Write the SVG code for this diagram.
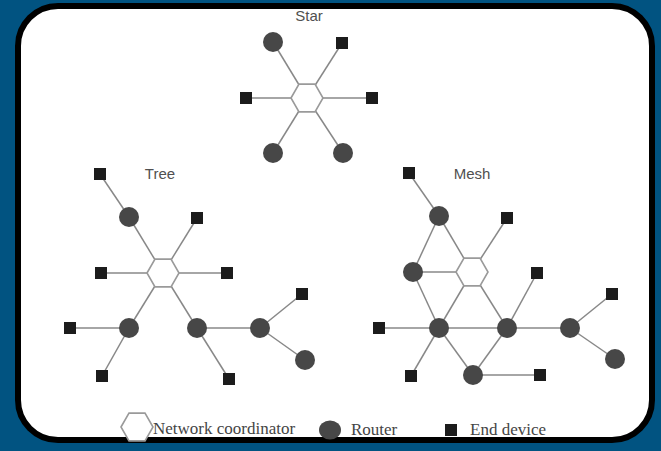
<svg xmlns="http://www.w3.org/2000/svg" width="661" height="451" viewBox="0 0 661 451">
<defs>
<style>
.edge{stroke:#888;stroke-width:1.5;fill:none}
.hex{fill:#fff;stroke:#9a9a9a;stroke-width:1.6}
.router{fill:#474747}
.dev{fill:#1c1c1c}
.title{font-family:"Liberation Sans",Arial,sans-serif;font-size:15px;fill:#505050;text-anchor:middle}
.leg{font-family:"Liberation Serif","Times New Roman",serif;font-size:17px;fill:#444}
</style>
<polygon id="hexshape" points="-16,0 -8,-13.9 8,-13.9 16,0 8,13.9 -8,13.9"/>
</defs>
<rect x="0" y="0" width="661" height="451" fill="#015381"/>
<rect x="18" y="6" width="634" height="434" rx="40" ry="40" fill="#fff" stroke="#000" stroke-width="6"/>

<g id="connectors">
<!-- Star -->
<line class="edge" x1="307" y1="98" x2="273" y2="42"/>
<line class="edge" x1="307" y1="98" x2="342" y2="43"/>
<line class="edge" x1="307" y1="98" x2="246" y2="98"/>
<line class="edge" x1="307" y1="98" x2="372" y2="98"/>
<line class="edge" x1="307" y1="98" x2="273" y2="153"/>
<line class="edge" x1="307" y1="98" x2="343" y2="153"/>
<!-- Tree -->
<line class="edge" x1="100" y1="174" x2="129" y2="217"/>
<line class="edge" x1="163" y1="273" x2="129" y2="217"/>
<line class="edge" x1="163" y1="273" x2="197" y2="218"/>
<line class="edge" x1="163" y1="273" x2="101" y2="273"/>
<line class="edge" x1="163" y1="273" x2="227" y2="273"/>
<line class="edge" x1="163" y1="273" x2="129" y2="328"/>
<line class="edge" x1="163" y1="273" x2="197" y2="328"/>
<line class="edge" x1="129" y1="328" x2="70" y2="328"/>
<line class="edge" x1="129" y1="328" x2="102" y2="376"/>
<line class="edge" x1="197" y1="328" x2="229" y2="379"/>
<line class="edge" x1="197" y1="328" x2="260" y2="328"/>
<line class="edge" x1="260" y1="328" x2="302" y2="294"/>
<line class="edge" x1="260" y1="328" x2="305" y2="360"/>
<!-- Mesh -->
<line class="edge" x1="409" y1="173" x2="439" y2="216"/>
<line class="edge" x1="472" y1="272" x2="439" y2="216"/>
<line class="edge" x1="439" y1="216" x2="413" y2="272"/>
<line class="edge" x1="413" y1="272" x2="472" y2="272"/>
<line class="edge" x1="413" y1="272" x2="439" y2="328"/>
<line class="edge" x1="472" y1="272" x2="507" y2="218"/>
<line class="edge" x1="472" y1="272" x2="439" y2="328"/>
<line class="edge" x1="472" y1="272" x2="507" y2="328"/>
<line class="edge" x1="507" y1="328" x2="537" y2="273"/>
<line class="edge" x1="379" y1="328" x2="439" y2="328"/>
<line class="edge" x1="439" y1="328" x2="507" y2="328"/>
<line class="edge" x1="507" y1="328" x2="570" y2="328"/>
<line class="edge" x1="439" y1="328" x2="411" y2="376"/>
<line class="edge" x1="439" y1="328" x2="473" y2="375"/>
<line class="edge" x1="473" y1="375" x2="507" y2="328"/>
<line class="edge" x1="473" y1="375" x2="540" y2="375"/>
<line class="edge" x1="570" y1="328" x2="612" y2="294"/>
<line class="edge" x1="570" y1="328" x2="615" y2="359"/>
</g>

<g id="star">
<text class="title" x="309" y="21">Star</text>
<g id="star-coordinator"><use href="#hexshape" class="hex" x="307" y="98"/></g>
<g id="star-r1"><circle class="router" cx="273" cy="42" r="10"/></g>
<g id="star-r2"><circle class="router" cx="273" cy="153" r="10"/></g>
<g id="star-r3"><circle class="router" cx="343" cy="153" r="10"/></g>
<g id="star-d1"><rect class="dev" x="336" y="37" width="12" height="12"/></g>
<g id="star-d2"><rect class="dev" x="240" y="92" width="12" height="12"/></g>
<g id="star-d3"><rect class="dev" x="366" y="92" width="12" height="12"/></g>
</g>

<g id="tree">
<text class="title" x="160" y="179">Tree</text>
<g id="tree-coordinator"><use href="#hexshape" class="hex" x="163" y="273"/></g>
<g id="tree-r1"><circle class="router" cx="129" cy="217" r="10"/></g>
<g id="tree-r2"><circle class="router" cx="129" cy="328" r="10"/></g>
<g id="tree-r3"><circle class="router" cx="197" cy="328" r="10"/></g>
<g id="tree-r4"><circle class="router" cx="260" cy="328" r="10"/></g>
<g id="tree-r5"><circle class="router" cx="305" cy="360" r="10"/></g>
<g id="tree-d1"><rect class="dev" x="94" y="168" width="12" height="12"/></g>
<g id="tree-d2"><rect class="dev" x="191" y="212" width="12" height="12"/></g>
<g id="tree-d3"><rect class="dev" x="95" y="267" width="12" height="12"/></g>
<g id="tree-d4"><rect class="dev" x="221" y="267" width="12" height="12"/></g>
<g id="tree-d5"><rect class="dev" x="64" y="322" width="12" height="12"/></g>
<g id="tree-d6"><rect class="dev" x="96" y="370" width="12" height="12"/></g>
<g id="tree-d7"><rect class="dev" x="223" y="373" width="12" height="12"/></g>
<g id="tree-d8"><rect class="dev" x="296" y="288" width="12" height="12"/></g>
</g>

<g id="mesh">
<text class="title" x="472" y="179">Mesh</text>
<g id="mesh-coordinator"><use href="#hexshape" class="hex" x="472" y="272"/></g>
<g id="mesh-rA"><circle class="router" cx="439" cy="216" r="10"/></g>
<g id="mesh-rB"><circle class="router" cx="413" cy="272" r="10"/></g>
<g id="mesh-rC"><circle class="router" cx="439" cy="328" r="10"/></g>
<g id="mesh-rD"><circle class="router" cx="507" cy="328" r="10"/></g>
<g id="mesh-rE"><circle class="router" cx="570" cy="328" r="10"/></g>
<g id="mesh-rF"><circle class="router" cx="615" cy="359" r="10"/></g>
<g id="mesh-rG"><circle class="router" cx="473" cy="375" r="10"/></g>
<g id="mesh-d1"><rect class="dev" x="403" y="167" width="12" height="12"/></g>
<g id="mesh-d2"><rect class="dev" x="501" y="212" width="12" height="12"/></g>
<g id="mesh-d3"><rect class="dev" x="531" y="267" width="12" height="12"/></g>
<g id="mesh-d4"><rect class="dev" x="606" y="288" width="12" height="12"/></g>
<g id="mesh-d5"><rect class="dev" x="373" y="322" width="12" height="12"/></g>
<g id="mesh-d6"><rect class="dev" x="405" y="370" width="12" height="12"/></g>
<g id="mesh-d7"><rect class="dev" x="534" y="369" width="12" height="12"/></g>
</g>

<g id="legend">
<g id="legend-coordinator"><use href="#hexshape" class="hex" x="137" y="427"/></g>
<text class="leg" x="153" y="434">Network coordinator</text>
<g id="legend-router"><ellipse class="router" cx="330" cy="430" rx="11" ry="9.5"/></g>
<text class="leg" x="351" y="435">Router</text>
<g id="legend-device"><rect class="dev" x="445" y="424" width="12" height="12"/></g>
<text class="leg" x="470" y="435">End device</text>
</g>
</svg>
